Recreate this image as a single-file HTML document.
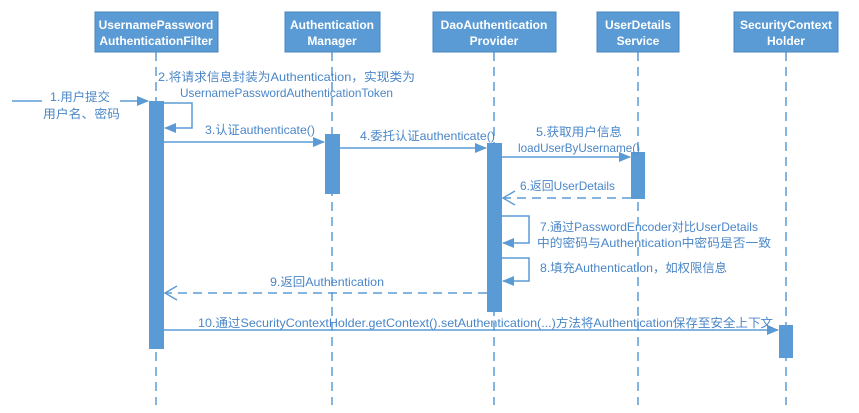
<!DOCTYPE html>
<html><head><meta charset="utf-8"><style>
body{margin:0;background:#fff;width:859px;height:413px;overflow:hidden}
svg{display:block}
text{font-family:"Liberation Sans","Noto Sans CJK SC",sans-serif;font-size:12px;fill:#4a86c8}
.h{fill:#fff;font-weight:bold;font-size:12px}
</style></head><body>
<svg width="859" height="413" viewBox="0 0 859 413" xmlns="http://www.w3.org/2000/svg">
<defs>
<marker id="a" markerWidth="12" markerHeight="10" refX="11" refY="5" orient="auto" markerUnits="userSpaceOnUse"><path d="M0,0 L12,5 L0,10 Z" fill="#5b9bd5"/></marker>
<marker id="o" markerWidth="14" markerHeight="16" refX="13" refY="8" orient="auto" markerUnits="userSpaceOnUse"><path d="M1,1 L13,8 L1,15" fill="none" stroke="#5b9bd5" stroke-width="1.4"/></marker>
</defs>
<g stroke="#5b9bd5" stroke-width="1.5" stroke-dasharray="9,6">
<line x1="156" y1="52" x2="156" y2="405"/>
<line x1="332" y1="52" x2="332" y2="405"/>
<line x1="494" y1="52" x2="494" y2="405"/>
<line x1="638" y1="52" x2="638" y2="405"/>
<line x1="786" y1="52" x2="786" y2="405"/>
</g>
<g fill="#5b9bd5" stroke="#4a86c0" stroke-width="1">
<rect x="95" y="12" width="123" height="40"/>
<rect x="285" y="12" width="95" height="40"/>
<rect x="433" y="12" width="123" height="40"/>
<rect x="597" y="12" width="82" height="40"/>
<rect x="734" y="12" width="104" height="40"/>
</g>
<g text-anchor="middle">
<text class="h" x="156" y="29">UsernamePassword</text><text class="h" x="156" y="45">AuthenticationFilter</text>
<text class="h" x="332" y="29">Authentication</text><text class="h" x="332" y="45">Manager</text>
<text class="h" x="494" y="29">DaoAuthentication</text><text class="h" x="494" y="45">Provider</text>
<text class="h" x="638" y="29">UserDetails</text><text class="h" x="638" y="45">Service</text>
<text class="h" x="786" y="29">SecurityContext</text><text class="h" x="786" y="45">Holder</text>
</g>
<g fill="#5b9bd5">
<rect x="149" y="101" width="15" height="248"/>
<rect x="325" y="134" width="15" height="60"/>
<rect x="487" y="143" width="15" height="169"/>
<rect x="631" y="152" width="14" height="47"/>
<rect x="779" y="325" width="14" height="33"/>
</g>
<g stroke="#5b9bd5" stroke-width="1.5" fill="none">
<line x1="12" y1="101" x2="42" y2="101"/><line x1="120" y1="101" x2="148" y2="101" marker-end="url(#a)"/>
<polyline points="164,103 192,103 192,128 165,128" marker-end="url(#a)"/>
<line x1="164" y1="142" x2="324" y2="142" marker-end="url(#a)"/>
<line x1="340" y1="148" x2="486" y2="148" marker-end="url(#a)"/>
<line x1="502" y1="157" x2="630" y2="157" marker-end="url(#a)"/>
<line x1="631" y1="198" x2="503" y2="198" stroke-dasharray="9,6" marker-end="url(#o)"/>
<polyline points="502,216 529,216 529,243 503,243" marker-end="url(#a)"/>
<polyline points="502,258 529,258 529,281 503,281" marker-end="url(#a)"/>
<line x1="487" y1="293" x2="165" y2="293" stroke-dasharray="9,6" marker-end="url(#o)"/>
<line x1="164" y1="330" x2="778" y2="330" marker-end="url(#a)"/>
</g>
<g lengthAdjust="spacingAndGlyphs">
<text x="50" y="101" textLength="60" lengthAdjust="spacingAndGlyphs">1.用户提交</text>
<text x="43" y="118" textLength="77" lengthAdjust="spacingAndGlyphs">用户名、密码</text>
<text x="158" y="81" textLength="257" lengthAdjust="spacingAndGlyphs">2.将请求信息封装为Authentication，实现类为</text>
<text x="180" y="97" textLength="213" lengthAdjust="spacingAndGlyphs">UsernamePasswordAuthenticationToken</text>
<text x="205" y="134" textLength="110" lengthAdjust="spacingAndGlyphs">3.认证authenticate()</text>
<text x="360" y="140" textLength="135" lengthAdjust="spacingAndGlyphs">4.委托认证authenticate()</text>
<text x="536" y="136" textLength="86" lengthAdjust="spacingAndGlyphs">5.获取用户信息</text>
<text x="518" y="152" textLength="122" lengthAdjust="spacingAndGlyphs">loadUserByUsername()</text>
<text x="520" y="190" textLength="95" lengthAdjust="spacingAndGlyphs">6.返回UserDetails</text>
<text x="540" y="231" textLength="218" lengthAdjust="spacingAndGlyphs">7.通过PasswordEncoder对比UserDetails</text>
<text x="537" y="247" textLength="234" lengthAdjust="spacingAndGlyphs">中的密码与Authentication中密码是否一致</text>
<text x="540" y="272" textLength="187" lengthAdjust="spacingAndGlyphs">8.填充Authentication，如权限信息</text>
<text x="270" y="286" textLength="114" lengthAdjust="spacingAndGlyphs">9.返回Authentication</text>
<text x="198" y="327" textLength="575" lengthAdjust="spacingAndGlyphs">10.通过SecurityContextHolder.getContext().setAuthentication(...)方法将Authentication保存至安全上下文</text>
</g>
</svg>
</body></html>
